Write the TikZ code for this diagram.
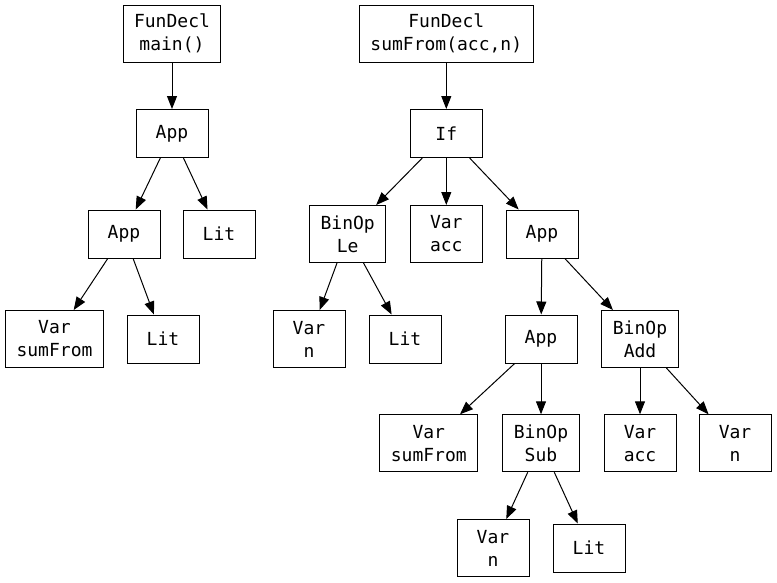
\documentclass[tikz,border=0pt]{standalone}
\usepackage{fontspec}
\setmonofont{DejaVu Sans Mono}
\usetikzlibrary{arrows.meta}
\begin{document}
\begin{tikzpicture}[x=1pt,y=-1pt,
  box/.style={draw=black,line width=1pt,rectangle,align=center,
    font=\ttfamily\fontsize{18}{23}\selectfont,
    inner xsep=11pt,inner ysep=2pt,minimum width=72pt,minimum height=48pt},
  box2/.style={box,minimum height=57pt},
  edge/.style={draw=black,line width=1pt,-{Triangle[length=13pt,width=10pt]}}]
\useasboundingbox[fill=white] (0,0) rectangle (777,582);

% tree for main()
\node[box2] (fmain) at (172,33.5) {FunDecl\\main()};
\node[box]  (app1) at (172,133.5) {App};
\node[box]  (app2) at (124,234) {App};
\node[box]  (lit1) at (219,234) {Lit};
\node[box2] (var1) at (54.5,339) {Var\\sumFrom};
\node[box]  (lit2) at (163,339) {Lit};

% tree for sumFrom(acc,n)
\node[box2] (fsum) at (446.3,33.5) {FunDecl\\sumFrom(acc,n)};
\node[box]  (if)   at (446.3,133.5) {If};
\node[box2] (le)   at (347.7,234) {BinOp\\Le};
\node[box2] (vacc1) at (446.3,234) {Var\\acc};
\node[box]  (app3) at (542,234) {App};
\node[box2] (vn1)  at (309,339) {Var\\n};
\node[box]  (lit3) at (405,339) {Lit};
\node[box]  (app4) at (541,339) {App};
\node[box2] (add)  at (640,339) {BinOp\\Add};
\node[box2] (var2) at (428.8,443.3) {Var\\sumFrom};
\node[box2] (sub)  at (541,443.3) {BinOp\\Sub};
\node[box2] (vacc2) at (640,443.3) {Var\\acc};
\node[box2] (vn2)  at (735,443.3) {Var\\n};
\node[box2] (vn3)  at (493,548) {Var\\n};
\node[box]  (lit4) at (589,548) {Lit};

\path[edge] (fmain) -- (app1);
\path[edge] (app1) -- (app2);
\path[edge] (app1) -- (lit1);
\path[edge] (app2) -- (var1);
\path[edge] (app2) -- (lit2);

\path[edge] (fsum) -- (if);
\path[edge] (if) -- (le);
\path[edge] (if) -- (vacc1);
\path[edge] (if) -- (app3);
\path[edge] (le) -- (vn1);
\path[edge] (le) -- (lit3);
\path[edge] (app3) -- (app4);
\path[edge] (app3) -- (add);
\path[edge] (app4) -- (var2);
\path[edge] (app4) -- (sub);
\path[edge] (add) -- (vacc2);
\path[edge] (add) -- (vn2);
\path[edge] (sub) -- (vn3);
\path[edge] (sub) -- (lit4);
\end{tikzpicture}
\end{document}
